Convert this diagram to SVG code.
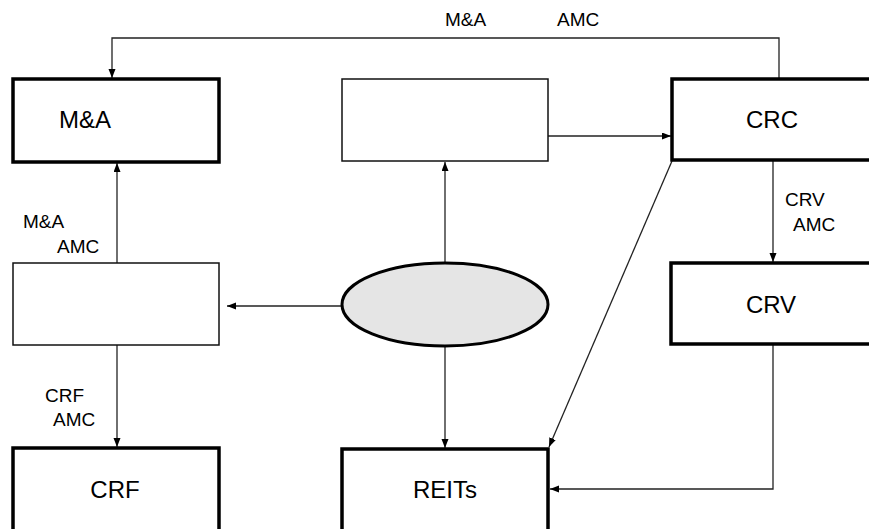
<svg xmlns="http://www.w3.org/2000/svg" width="869" height="529" viewBox="0 0 869 529">
  <style>
    .bold { fill: #ffffff; stroke: #000000; stroke-width: 3.5; }
    .thin { fill: #ffffff; stroke: #111111; stroke-width: 1.5; }
    .oval { fill: #e5e5e5; stroke: #000000; stroke-width: 3; }
    .big { font-family: "Liberation Sans", Arial, sans-serif; font-size: 24px; fill: #000000; text-anchor: middle; }
    .small { font-family: "Liberation Sans", Arial, sans-serif; font-size: 19px; fill: #000000; }
    .link { fill: none; stroke: #222222; stroke-width: 1.3; marker-end: url(#arrow); }
    .plain { fill: none; stroke: #222222; stroke-width: 1.3; }
  </style>
  <defs>
    <marker id="arrow" markerUnits="userSpaceOnUse" markerWidth="10" markerHeight="8" refX="9" refY="3.5" orient="auto">
      <path d="M0,0 L9,3.5 L0,7 z" fill="#000000"/>
    </marker>
  </defs>
  <rect width="869" height="529" fill="#ffffff"/>

  <g id="connectors">
    <!-- CRC over the top back to M&A -->
    <polyline class="link" points="779,79 779,38 112,38 112,78"/>
    <!-- upper centre box to CRC -->
    <line class="link" x1="548" y1="136" x2="671" y2="136"/>
    <!-- left middle box up to M&A -->
    <line class="link" x1="117" y1="263" x2="117" y2="163"/>
    <!-- left middle box down to CRF -->
    <line class="link" x1="117" y1="345" x2="117" y2="447"/>
    <!-- ellipse to left middle box -->
    <line class="link" x1="342" y1="306" x2="227" y2="306"/>
    <!-- ellipse to upper centre box -->
    <line class="link" x1="445" y1="263" x2="445" y2="162"/>
    <!-- ellipse to REITs -->
    <line class="link" x1="445" y1="346" x2="445" y2="448"/>
    <!-- CRC to CRV -->
    <line class="link" x1="773" y1="161" x2="773" y2="262"/>
    <!-- CRV round to REITs -->
    <polyline class="link" points="773,344 773,489 550,489"/>
    <!-- CRC diagonal to REITs corner -->
    <line class="link" x1="672" y1="161" x2="549" y2="447"/>
  </g>

  <g id="node-ma">
    <rect class="bold" x="13" y="79" width="206" height="83"/>
    <text class="big" x="85" y="128">M&amp;A</text>
  </g>

  <g id="node-top-center">
    <rect class="thin" x="342" y="79" width="206" height="82"/>
  </g>

  <g id="node-crc">
    <rect class="bold" x="672" y="79" width="210" height="81"/>
    <text class="big" x="772" y="128">CRC</text>
  </g>

  <g id="node-left-middle">
    <rect class="thin" x="13" y="263" width="206" height="82"/>
  </g>

  <g id="node-ellipse">
    <ellipse class="oval" cx="445" cy="304.5" rx="103" ry="41.5"/>
  </g>

  <g id="node-crv">
    <rect class="bold" x="671" y="263" width="210" height="81"/>
    <text class="big" x="771" y="313">CRV</text>
  </g>

  <g id="node-crf">
    <rect class="bold" x="13" y="448" width="206" height="90"/>
    <text class="big" x="115" y="498">CRF</text>
  </g>

  <g id="node-reits">
    <rect class="bold" x="342" y="449" width="206" height="90"/>
    <text class="big" x="445" y="498">REITs</text>
  </g>

  <g id="labels">
    <text class="small" x="445" y="26">M&amp;A</text>
    <text class="small" x="557" y="26">AMC</text>
    <text class="small" x="23" y="228">M&amp;A</text>
    <text class="small" x="57" y="253">AMC</text>
    <text class="small" x="785" y="206">CRV</text>
    <text class="small" x="793" y="231">AMC</text>
    <text class="small" x="45" y="402">CRF</text>
    <text class="small" x="53" y="426">AMC</text>
  </g>
</svg>
